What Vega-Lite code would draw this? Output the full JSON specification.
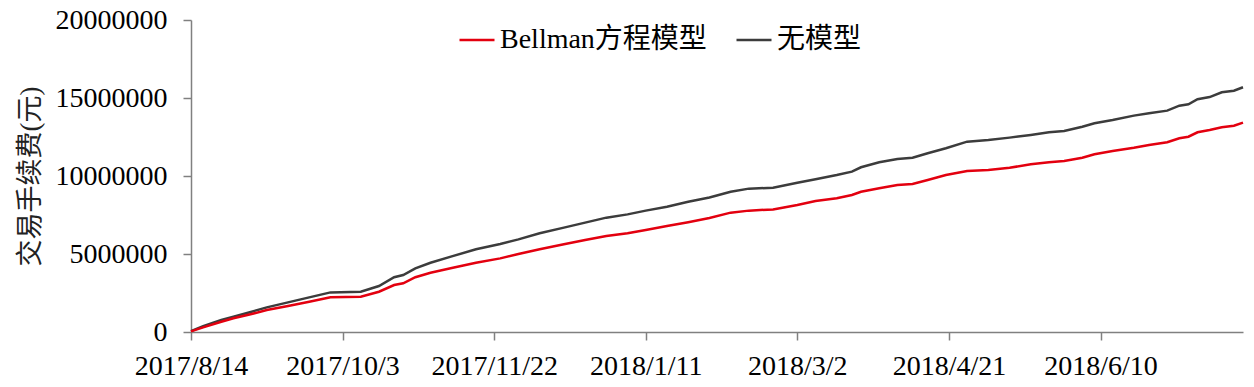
{
  "$schema": "https://vega.github.io/schema/vega-lite/v6.json",
  "autosize": "none",
  "width": 1052,
  "height": 312,
  "padding": {"left": 191, "top": 20, "right": 11, "bottom": 55},
  "background": "white",
  "config": {
    "view": {"stroke": null},
    "font": "Liberation Serif, Noto Sans CJK SC"
  },
  "data": {
    "values": [
      {"date": "2017-08-14", "model": "无模型", "fee": 50000},
      {"date": "2017-08-18", "model": "无模型", "fee": 380000},
      {"date": "2017-08-24", "model": "无模型", "fee": 770000},
      {"date": "2017-08-28", "model": "无模型", "fee": 980000},
      {"date": "2017-09-03", "model": "无模型", "fee": 1300000},
      {"date": "2017-09-08", "model": "无模型", "fee": 1580000},
      {"date": "2017-09-15", "model": "无模型", "fee": 1900000},
      {"date": "2017-09-22", "model": "无模型", "fee": 2220000},
      {"date": "2017-09-29", "model": "无模型", "fee": 2540000},
      {"date": "2017-10-09", "model": "无模型", "fee": 2580000},
      {"date": "2017-10-15", "model": "无模型", "fee": 2950000},
      {"date": "2017-10-20", "model": "无模型", "fee": 3510000},
      {"date": "2017-10-23", "model": "无模型", "fee": 3650000},
      {"date": "2017-10-27", "model": "无模型", "fee": 4080000},
      {"date": "2017-11-01", "model": "无模型", "fee": 4440000},
      {"date": "2017-11-08", "model": "无模型", "fee": 4850000},
      {"date": "2017-11-16", "model": "无模型", "fee": 5300000},
      {"date": "2017-11-24", "model": "无模型", "fee": 5640000},
      {"date": "2017-11-30", "model": "无模型", "fee": 5940000},
      {"date": "2017-12-07", "model": "无模型", "fee": 6330000},
      {"date": "2017-12-15", "model": "无模型", "fee": 6690000},
      {"date": "2017-12-22", "model": "无模型", "fee": 7010000},
      {"date": "2017-12-29", "model": "无模型", "fee": 7330000},
      {"date": "2018-01-05", "model": "无模型", "fee": 7540000},
      {"date": "2018-01-11", "model": "无模型", "fee": 7780000},
      {"date": "2018-01-18", "model": "无模型", "fee": 8030000},
      {"date": "2018-01-25", "model": "无模型", "fee": 8350000},
      {"date": "2018-02-01", "model": "无模型", "fee": 8620000},
      {"date": "2018-02-08", "model": "无模型", "fee": 8990000},
      {"date": "2018-02-14", "model": "无模型", "fee": 9190000},
      {"date": "2018-02-22", "model": "无模型", "fee": 9250000},
      {"date": "2018-03-02", "model": "无模型", "fee": 9570000},
      {"date": "2018-03-08", "model": "无模型", "fee": 9790000},
      {"date": "2018-03-15", "model": "无模型", "fee": 10060000},
      {"date": "2018-03-20", "model": "无模型", "fee": 10280000},
      {"date": "2018-03-23", "model": "无模型", "fee": 10560000},
      {"date": "2018-03-29", "model": "无模型", "fee": 10880000},
      {"date": "2018-04-04", "model": "无模型", "fee": 11090000},
      {"date": "2018-04-09", "model": "无模型", "fee": 11170000},
      {"date": "2018-04-14", "model": "无模型", "fee": 11460000},
      {"date": "2018-04-20", "model": "无模型", "fee": 11780000},
      {"date": "2018-04-27", "model": "无模型", "fee": 12200000},
      {"date": "2018-05-04", "model": "无模型", "fee": 12310000},
      {"date": "2018-05-11", "model": "无模型", "fee": 12460000},
      {"date": "2018-05-18", "model": "无模型", "fee": 12630000},
      {"date": "2018-05-24", "model": "无模型", "fee": 12800000},
      {"date": "2018-05-29", "model": "无模型", "fee": 12880000},
      {"date": "2018-06-04", "model": "无模型", "fee": 13160000},
      {"date": "2018-06-08", "model": "无模型", "fee": 13380000},
      {"date": "2018-06-14", "model": "无模型", "fee": 13590000},
      {"date": "2018-06-21", "model": "无模型", "fee": 13870000},
      {"date": "2018-06-26", "model": "无模型", "fee": 14020000},
      {"date": "2018-07-02", "model": "无模型", "fee": 14190000},
      {"date": "2018-07-06", "model": "无模型", "fee": 14510000},
      {"date": "2018-07-09", "model": "无模型", "fee": 14600000},
      {"date": "2018-07-12", "model": "无模型", "fee": 14920000},
      {"date": "2018-07-16", "model": "无模型", "fee": 15060000},
      {"date": "2018-07-20", "model": "无模型", "fee": 15370000},
      {"date": "2018-07-24", "model": "无模型", "fee": 15470000},
      {"date": "2018-07-27", "model": "无模型", "fee": 15690000},
      {"date": "2017-08-14", "model": "Bellman方程模型", "fee": 40000},
      {"date": "2017-08-18", "model": "Bellman方程模型", "fee": 300000},
      {"date": "2017-08-24", "model": "Bellman方程模型", "fee": 660000},
      {"date": "2017-08-28", "model": "Bellman方程模型", "fee": 880000},
      {"date": "2017-09-03", "model": "Bellman方程模型", "fee": 1150000},
      {"date": "2017-09-08", "model": "Bellman方程模型", "fee": 1410000},
      {"date": "2017-09-15", "model": "Bellman方程模型", "fee": 1670000},
      {"date": "2017-09-22", "model": "Bellman方程模型", "fee": 1940000},
      {"date": "2017-09-29", "model": "Bellman方程模型", "fee": 2220000},
      {"date": "2017-10-09", "model": "Bellman方程模型", "fee": 2260000},
      {"date": "2017-10-15", "model": "Bellman方程模型", "fee": 2580000},
      {"date": "2017-10-20", "model": "Bellman方程模型", "fee": 3010000},
      {"date": "2017-10-23", "model": "Bellman方程模型", "fee": 3120000},
      {"date": "2017-10-27", "model": "Bellman方程模型", "fee": 3510000},
      {"date": "2017-11-01", "model": "Bellman方程模型", "fee": 3800000},
      {"date": "2017-11-08", "model": "Bellman方程模型", "fee": 4100000},
      {"date": "2017-11-16", "model": "Bellman方程模型", "fee": 4440000},
      {"date": "2017-11-24", "model": "Bellman方程模型", "fee": 4720000},
      {"date": "2017-11-30", "model": "Bellman方程模型", "fee": 5000000},
      {"date": "2017-12-07", "model": "Bellman方程模型", "fee": 5300000},
      {"date": "2017-12-15", "model": "Bellman方程模型", "fee": 5620000},
      {"date": "2017-12-22", "model": "Bellman方程模型", "fee": 5900000},
      {"date": "2017-12-29", "model": "Bellman方程模型", "fee": 6150000},
      {"date": "2018-01-05", "model": "Bellman方程模型", "fee": 6330000},
      {"date": "2018-01-11", "model": "Bellman方程模型", "fee": 6540000},
      {"date": "2018-01-18", "model": "Bellman方程模型", "fee": 6790000},
      {"date": "2018-01-25", "model": "Bellman方程模型", "fee": 7040000},
      {"date": "2018-02-01", "model": "Bellman方程模型", "fee": 7310000},
      {"date": "2018-02-08", "model": "Bellman方程模型", "fee": 7650000},
      {"date": "2018-02-14", "model": "Bellman方程模型", "fee": 7780000},
      {"date": "2018-02-22", "model": "Bellman方程模型", "fee": 7860000},
      {"date": "2018-03-02", "model": "Bellman方程模型", "fee": 8140000},
      {"date": "2018-03-08", "model": "Bellman方程模型", "fee": 8400000},
      {"date": "2018-03-15", "model": "Bellman方程模型", "fee": 8570000},
      {"date": "2018-03-20", "model": "Bellman方程模型", "fee": 8780000},
      {"date": "2018-03-23", "model": "Bellman方程模型", "fee": 8990000},
      {"date": "2018-03-29", "model": "Bellman方程模型", "fee": 9210000},
      {"date": "2018-04-04", "model": "Bellman方程模型", "fee": 9420000},
      {"date": "2018-04-09", "model": "Bellman方程模型", "fee": 9490000},
      {"date": "2018-04-14", "model": "Bellman方程模型", "fee": 9740000},
      {"date": "2018-04-20", "model": "Bellman方程模型", "fee": 10060000},
      {"date": "2018-04-27", "model": "Bellman方程模型", "fee": 10320000},
      {"date": "2018-05-04", "model": "Bellman方程模型", "fee": 10380000},
      {"date": "2018-05-11", "model": "Bellman方程模型", "fee": 10530000},
      {"date": "2018-05-18", "model": "Bellman方程模型", "fee": 10750000},
      {"date": "2018-05-24", "model": "Bellman方程模型", "fee": 10880000},
      {"date": "2018-05-29", "model": "Bellman方程模型", "fee": 10960000},
      {"date": "2018-06-04", "model": "Bellman方程模型", "fee": 11170000},
      {"date": "2018-06-08", "model": "Bellman方程模型", "fee": 11390000},
      {"date": "2018-06-14", "model": "Bellman方程模型", "fee": 11600000},
      {"date": "2018-06-21", "model": "Bellman方程模型", "fee": 11810000},
      {"date": "2018-06-26", "model": "Bellman方程模型", "fee": 11990000},
      {"date": "2018-07-02", "model": "Bellman方程模型", "fee": 12160000},
      {"date": "2018-07-06", "model": "Bellman方程模型", "fee": 12420000},
      {"date": "2018-07-09", "model": "Bellman方程模型", "fee": 12520000},
      {"date": "2018-07-12", "model": "Bellman方程模型", "fee": 12800000},
      {"date": "2018-07-16", "model": "Bellman方程模型", "fee": 12950000},
      {"date": "2018-07-20", "model": "Bellman方程模型", "fee": 13120000},
      {"date": "2018-07-24", "model": "Bellman方程模型", "fee": 13220000},
      {"date": "2018-07-27", "model": "Bellman方程模型", "fee": 13420000}
    ]
  },
  "mark": {"type": "line", "strokeWidth": 2.5, "interpolate": "linear"},
  "encoding": {
    "x": {
      "field": "date",
      "type": "temporal",
      "scale": {
        "type": "utc",
        "domain": [
          {"year": 2017, "month": 8, "date": 14, "utc": true},
          {"year": 2018, "month": 7, "date": 27, "utc": true}
        ]
      },
      "axis": {
        "title": null,
        "values": [
          {"year": 2017, "month": 8, "date": 14, "utc": true},
          {"year": 2017, "month": 10, "date": 3, "utc": true},
          {"year": 2017, "month": 11, "date": 22, "utc": true},
          {"year": 2018, "month": 1, "date": 11, "utc": true},
          {"year": 2018, "month": 3, "date": 2, "utc": true},
          {"year": 2018, "month": 4, "date": 21, "utc": true},
          {"year": 2018, "month": 6, "date": 10, "utc": true}
        ],
        "labelExpr": "utcFormat(datum.value, '%Y/%-m/%-d')",
        "grid": false,
        "domainColor": "#808080",
        "domainWidth": 1.5,
        "tickColor": "#808080",
        "tickWidth": 1.5,
        "tickSize": 8,
        "labelPadding": 12,
        "labelFont": "Liberation Serif",
        "labelFontSize": 28,
        "labelColor": "#000000",
        "labelFlush": false,
        "labelOverlap": false
      }
    },
    "y": {
      "field": "fee",
      "type": "quantitative",
      "scale": {"domain": [0, 20000000], "nice": false, "zero": true},
      "axis": {
        "title": "交易手续费(元)",
        "values": [0, 5000000, 10000000, 15000000, 20000000],
        "format": "d",
        "grid": false,
        "domainColor": "#808080",
        "domainWidth": 1.5,
        "tickColor": "#808080",
        "tickWidth": 1.5,
        "tickSize": 8,
        "labelPadding": 16,
        "labelFont": "Liberation Serif",
        "labelFontSize": 28,
        "labelColor": "#000000",
        "titleFont": "Liberation Serif, Noto Sans CJK SC",
        "titleFontSize": 27,
        "titleFontWeight": "normal",
        "titleColor": "#222222",
        "titleAngle": -90,
        "titleX": -161,
        "titleY": 156,
        "titleAlign": "center",
        "titleBaseline": "middle"
      }
    },
    "color": {
      "field": "model",
      "type": "nominal",
      "scale": {
        "domain": ["Bellman方程模型", "无模型"],
        "range": ["#e3000f", "#3c3c3c"]
      },
      "legend": {
        "title": null,
        "orient": "none",
        "direction": "horizontal",
        "legendX": 267,
        "legendY": 1,
        "padding": 0,
        "symbolType": "stroke",
        "symbolSize": 1225,
        "symbolStrokeWidth": 2.5,
        "labelOffset": 4,
        "columnPadding": 24,
        "labelFont": "Liberation Serif, Noto Sans CJK SC",
        "labelFontSize": 28,
        "labelColor": "#000000",
        "labelLimit": 0
      }
    }
  }
}
